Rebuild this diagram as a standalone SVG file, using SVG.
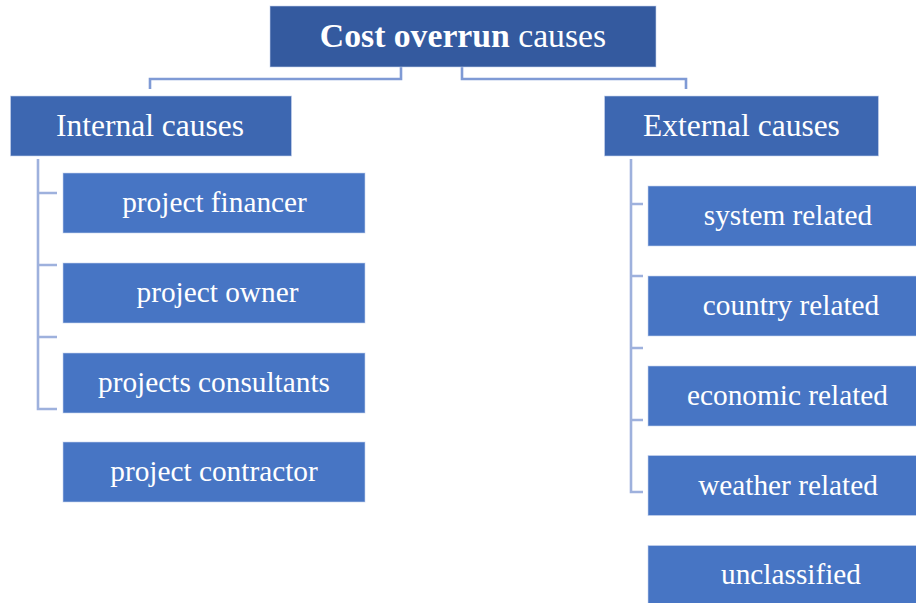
<svg xmlns="http://www.w3.org/2000/svg" width="916" height="603" viewBox="0 0 916 603">
  <style>
    text { font-family: "Liberation Serif", "Times New Roman", serif; fill: #ffffff; text-anchor: middle; }
    .root { fill: #345A9F; }
    .mid { fill: #3D67B1; }
    .leaf { fill: #4775C4; }
    .box { stroke: #C9D5EE; stroke-width: 1; stroke-opacity: 0.6; }
    .t1 { font-size: 33.7px; }
    .t2 { font-size: 31.5px; }
    .t3 { font-size: 29.3px; }
    .link { fill: none; stroke: #7F9AD5; stroke-width: 2.6; }
    .brk { fill: none; stroke: #9EB1DD; stroke-width: 2.6; }
  </style>

  <!-- connectors -->
  <g id="connectors">
    <path class="link" d="M401,67 V79 H150 V89"/>
    <path class="link" d="M462,67 V79 H686 V89"/>
    <path class="brk" d="M38,159 V409 H57 M38,193 H57 M38,265 H57 M38,337 H57"/>
    <path class="brk" d="M631,159 V492 H643 M631,204 H643 M631,276 H643 M631,348 H643 M631,420 H643"/>
  </g>

  <!-- root -->
  <g id="cost-overrun-causes">
    <rect class="root box" x="270" y="6" width="386" height="61"/>
    <text class="t1" x="463" y="47"><tspan font-weight="bold">Cost overrun</tspan> causes</text>
  </g>

  <!-- second level -->
  <g id="internal-causes">
    <rect class="mid box" x="10.5" y="96" width="281" height="60"/>
    <text class="t2" x="150" y="136">Internal causes</text>
  </g>
  <g id="external-causes">
    <rect class="mid box" x="604.5" y="96" width="274" height="60"/>
    <text class="t2" x="741.5" y="136">External causes</text>
  </g>

  <!-- internal leaves -->
  <g id="project-financer">
    <rect class="leaf box" x="63" y="173" width="302" height="60"/>
    <text class="t3" x="214.5" y="212">project financer</text>
  </g>
  <g id="project-owner">
    <rect class="leaf box" x="63" y="263" width="302" height="60"/>
    <text class="t3" x="217.5" y="302">project owner</text>
  </g>
  <g id="projects-consultants">
    <rect class="leaf box" x="63" y="353" width="302" height="60"/>
    <text class="t3" x="214" y="392">projects consultants</text>
  </g>
  <g id="project-contractor">
    <rect class="leaf box" x="63" y="442" width="302" height="60"/>
    <text class="t3" x="214" y="481">project contractor</text>
  </g>

  <!-- external leaves -->
  <g id="system-related">
    <rect class="leaf box" x="648" y="186" width="272" height="60"/>
    <text class="t3" x="788" y="225">system related</text>
  </g>
  <g id="country-related">
    <rect class="leaf box" x="648" y="276" width="272" height="60"/>
    <text class="t3" x="791" y="315">country related</text>
  </g>
  <g id="economic-related">
    <rect class="leaf box" x="648" y="366" width="272" height="60"/>
    <text class="t3" x="787.5" y="405">economic related</text>
  </g>
  <g id="weather-related">
    <rect class="leaf box" x="648" y="455.5" width="272" height="60"/>
    <text class="t3" x="788" y="494.5">weather related</text>
  </g>
  <g id="unclassified">
    <rect class="leaf box" x="648" y="545.5" width="272" height="60"/>
    <text class="t3" x="791" y="584">unclassified</text>
  </g>
</svg>
